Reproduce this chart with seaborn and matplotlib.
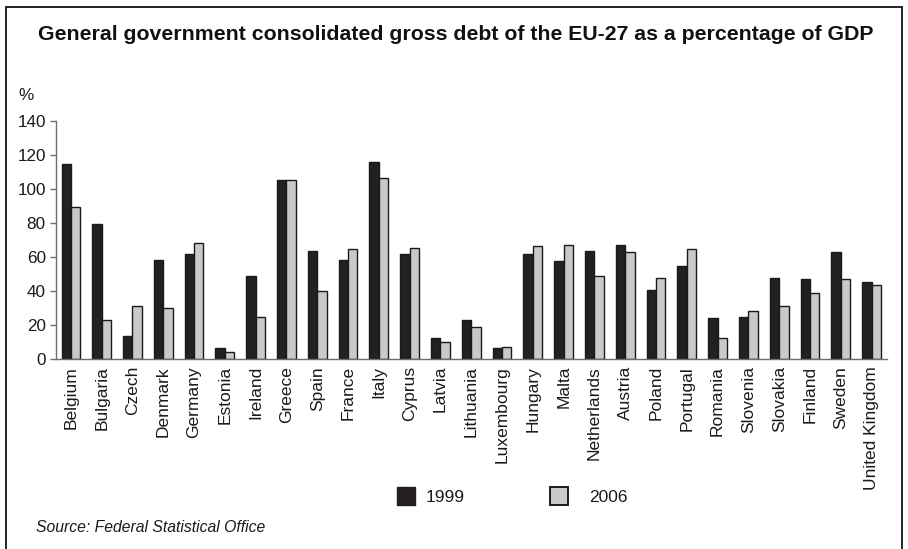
import matplotlib
matplotlib.use("Agg")
import matplotlib.pyplot as plt
from matplotlib.patches import Patch, Rectangle
from matplotlib.ticker import FixedLocator
import seaborn as sns
import pandas as pd

countries = ["Belgium", "Bulgaria", "Czech", "Denmark", "Germany", "Estonia", "Ireland",
             "Greece", "Spain", "France", "Italy", "Cyprus", "Latvia", "Lithuania",
             "Luxembourg", "Hungary", "Malta", "Netherlands", "Austria", "Poland",
             "Portugal", "Romania", "Slovenia", "Slovakia", "Finland", "Sweden",
             "United Kingdom"]
debt_1999 = [114.6, 79.5, 13.5, 58.4, 61.9, 6.5, 48.6, 105.2, 63.6, 58.4, 115.7, 61.9,
             12.5, 23.1, 6.5, 61.9, 57.4, 63.6, 67.2, 40.7, 54.8, 23.9, 24.9, 47.6,
             46.8, 62.7, 45.2]
debt_2006 = [89.1, 23.1, 31.0, 30.0, 68.0, 4.3, 24.7, 105.2, 39.7, 64.4, 106.5, 65.4,
             9.8, 18.6, 7.2, 66.2, 67.2, 48.6, 62.7, 47.6, 64.4, 12.5, 28.4, 31.0,
             39.0, 46.8, 43.3]
years = ["1999", "2006"]
y_ticks = [0, 20, 40, 60, 80, 100, 120, 140]

df = pd.DataFrame({
    "country": countries * 2,
    "year": [years[0]] * len(countries) + [years[1]] * len(countries),
    "debt": debt_1999 + debt_2006,
})

sns.set_style("white")
plt.rcParams["font.family"] = ["Liberation Sans", "DejaVu Sans"]

dark = "#231f20"
light = "#c8c9cb"
axis_grey = "#6e6e6e"
text_col = "#1a1a1a"

fig = plt.figure(figsize=(9.08, 5.49), dpi=100)
W, H = 908, 549
ax = fig.add_axes([55.5 / W, 1 - 359 / H, (887 - 55.5) / W, (359 - 120.7) / H])

sns.barplot(data=df, x="country", y="debt", hue="year", order=countries,
            hue_order=years, palette={years[0]: dark, years[1]: light},
            width=0.61, gap=0, edgecolor="#1a1a1a", linewidth=1.0,
            legend=False, ax=ax, errorbar=None)

ax.set_xlim(-0.5, len(countries) - 0.5)
ax.set_ylim(0, 140)
ax.set_yticks(y_ticks)
ax.set_yticklabels([str(v) for v in y_ticks], fontsize=12.3, color=text_col)
ax.set_xlabel("")
ax.set_ylabel("")
ax.set_xticks(range(len(countries)))
ax.set_xticklabels(countries, rotation=90, fontsize=12.5, color=text_col,
                   va="top", ha="center")
ax.tick_params(axis="x", which="major", length=0, pad=5)
ax.xaxis.set_minor_locator(FixedLocator([i - 0.5 for i in range(len(countries) + 1)]))
ax.tick_params(axis="x", which="minor", length=4, width=1, color=axis_grey, direction="out")
ax.tick_params(axis="y", length=4, width=1, color=axis_grey, direction="out", pad=3,
               left=True)
for side in ("top", "right"):
    ax.spines[side].set_visible(False)
for side in ("left", "bottom"):
    ax.spines[side].set_color(axis_grey)
    ax.spines[side].set_linewidth(1.0)

fig.text(456 / W, 1 - 35 / H, "General government consolidated gross debt of the EU-27 as a percentage of GDP",
         ha="center", va="center", fontsize=15.3, fontweight="bold", color="#111111")
fig.text(18 / W, 1 - 96 / H, "%", ha="left", va="center", fontsize=12.3, color=text_col)
fig.text(36 / W, 1 - 527 / H, "Source: Federal Statistical Office", ha="left", va="center",
         fontsize=11.3, fontstyle="italic", color=text_col)

# two legend entries, each placed on its own
entries = [
    (Patch(facecolor=dark, edgecolor=dark, label=years[0]), 397, 0.62),
    (Patch(facecolor=light, edgecolor="#1a1a1a", linewidth=1.4, label=years[1]), 550, 1.2),
]
for handle, x_left, pad in entries:
    leg = fig.legend(handles=[handle], loc="center left",
                     bbox_to_anchor=(x_left / W, 1 - 496 / H), frameon=False,
                     fontsize=12.5, handlelength=1.03, handleheight=1.25,
                     handletextpad=pad, borderpad=0, borderaxespad=0)
    for t in leg.get_texts():
        t.set_color(text_col)

fig.add_artist(Rectangle((6 / W, -0.05), (902 - 6) / W, 1.05 - 6.5 / H,
                         transform=fig.transFigure, fill=False, edgecolor="#111111",
                         linewidth=1.3))

fig.savefig("out.png", dpi=100)
